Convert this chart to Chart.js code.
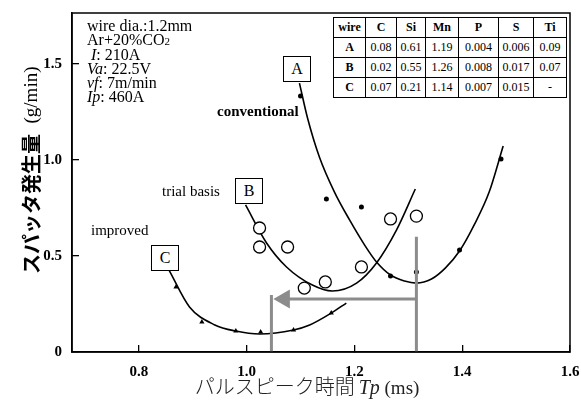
<!DOCTYPE html>
<html>
<head>
<meta charset="utf-8">
<script src="https://cdn.jsdelivr.net/npm/chart.js@4"></script>
<style>
  body { margin: 0; background: #fff; }
  #wrap { position: relative; width: 581px; height: 401px; }
  .ov { position: absolute; pointer-events: none; color: #000; }
  .serif { font-family: "Liberation Serif", serif; }
  .box { border: 1.3px solid #000; background: #fff; width: 26px; height: 24px; line-height: 24px;
         text-align: center; font-size: 16px; font-family: "Liberation Serif", serif; }
  .anchor { position: absolute; width: 0; height: 0; }
  .anchor > div { position: absolute; white-space: nowrap; }
  .rot > div { transform: translate(-50%, -50%) rotate(-90deg); }
  .mid > div { transform: translate(-50%, -50%); }
  #params { left: 87px; top: 19px; font-size: 16px; line-height: 14px; }
  #comp { left: 333px; top: 17px; border-collapse: collapse; font-family: "Liberation Serif", serif; font-size: 12px; background: #fff; }
  #comp td { border: 1.2px solid #000; height: 19px; padding: 0 2px; text-align: center; }
  #comp tr:first-child td, #comp td:first-child { font-weight: bold; }
</style>
</head>
<body>
<div id="wrap">
  <canvas id="chart"></canvas>

  <div id="params" class="ov serif">
    wire dia.:1.2mm<br>
    Ar+20%CO<span style="font-size:11px">2</span><br>
    &nbsp;<i>I</i>: 210A<br>
    <i>Va</i>: 22.5V<br>
    <i>vf</i>: 7m/min<br>
    <i>Ip</i>: 460A
  </div>

  <table id="comp" class="ov">
    <tr><td style="width:27px">wire</td><td style="width:26px">C</td><td style="width:24px">Si</td><td style="width:28px">Mn</td><td style="width:35px">P</td><td style="width:30px">S</td><td style="width:28px">Ti</td></tr>
    <tr><td>A</td><td>0.08</td><td>0.61</td><td>1.19</td><td>0.004</td><td>0.006</td><td>0.09</td></tr>
    <tr><td>B</td><td>0.02</td><td>0.55</td><td>1.26</td><td>0.008</td><td>0.017</td><td>0.07</td></tr>
    <tr><td>C</td><td>0.07</td><td>0.21</td><td>1.14</td><td>0.007</td><td>0.015</td><td>-</td></tr>
  </table>

  <div class="ov box" style="left:283px; top:56px;">A</div>
  <div class="ov box" style="left:235px; top:178px;">B</div>
  <div class="ov box" style="left:151px; top:245px;">C</div>
  <div class="ov serif" style="left:217px; top:103px; font-size:15px; font-weight:bold;">conventional</div>
  <div class="ov serif" style="left:162px; top:183px; font-size:15px;">trial basis</div>
  <div class="ov serif" style="left:91px; top:222px; font-size:15px;">improved</div>

  <!-- y axis title -->
  <div class="ov anchor rot" style="left:30px; top:204px;">
    <div style="font-family:'Noto Sans CJK JP'; font-weight:bold; font-size:20px;">スパッタ発生量</div>
  </div>
  <div class="ov anchor rot" style="left:31px; top:95px;">
    <div class="serif" style="font-size:19px;">(g/min)</div>
  </div>

  <!-- x axis title -->
  <div class="ov anchor mid" style="left:307px; top:385px;">
    <div style="color:#222;">
      <span style="font-family:'Noto Sans CJK JP'; font-weight:300; font-size:20px;">パルスピーク時間</span>
      <i class="serif" style="font-size:20px;">Tp</i><span class="serif" style="font-size:19px;"> (ms)</span>
    </div>
  </div>
</div>

<script>
// measured points (pulse peak time Tp in ms, spatter in g/min)
const tpA = [1.100, 1.148, 1.213, 1.267, 1.315, 1.395, 1.472];
const spatterA = [1.333, 0.797, 0.755, 0.396, 0.417, 0.531, 1.005];
const tpB = [1.024, 1.024, 1.076, 1.107, 1.146, 1.213, 1.267, 1.315];
const spatterB = [0.646, 0.547, 0.547, 0.333, 0.365, 0.443, 0.693, 0.708];
const tpC = [0.869, 0.917, 0.980, 1.026, 1.087, 1.157];
const spatterC = [0.339, 0.156, 0.109, 0.104, 0.115, 0.203];

// fitted curves as drawn in the figure
const fitAx = [1.098, 1.113, 1.135, 1.163, 1.191, 1.219, 1.241, 1.267, 1.293, 1.315, 1.343, 1.369, 1.395, 1.422, 1.450, 1.476];
const fitAy = [1.401, 1.219, 1.016, 0.833, 0.688, 0.557, 0.469, 0.401, 0.370, 0.359, 0.380, 0.438, 0.526, 0.661, 0.833, 1.073];
const fitBx = [0.998, 1.037, 1.074, 1.122, 1.159, 1.204, 1.241, 1.278, 1.313];
const fitBy = [0.766, 0.568, 0.443, 0.349, 0.318, 0.359, 0.464, 0.635, 0.849];
const fitCx = [0.856, 0.894, 0.941, 0.980, 1.024, 1.087, 1.117, 1.157, 1.185];
const fitCy = [0.427, 0.235, 0.141, 0.109, 0.094, 0.115, 0.141, 0.203, 0.255];

// grey arrow: from Tp of A minimum to Tp of C minimum
const markAx = [1.315, 1.315];
const markAy = [0.6, 0];
const arrowX = [1.315, 1.07];
const arrowY = [0.276, 0.276];
const markCx = [1.046, 1.046];
const markCy = [0.297, 0];

const xTicks = [0.8, 1.0, 1.2, 1.4, 1.6];
const yTicks = [0, 0.5, 1.0, 1.5];

const pts = (xs, ys) => xs.map((x, i) => ({ x: x, y: ys[i] }));
const grey = '#8c8c8c';

const frame = {
    id: 'frame',
    afterDraw(chart) {
        const a = chart.chartArea, ctx = chart.ctx;
        ctx.save();
        ctx.strokeStyle = '#000';
        ctx.lineWidth = 1.5;
        ctx.strokeRect(a.left, a.top, a.right - a.left, a.bottom - a.top);
        ctx.restore();
    }
};

const tickFont = { family: 'Liberation Serif', size: 15, weight: 'bold' };

new Chart(document.getElementById('chart'), {
    type: 'scatter',
    data: {
        datasets: [
            { data: pts(markAx, markAy), showLine: true, borderColor: grey, borderWidth: 3, pointRadius: 0 },
            { data: pts(arrowX, arrowY), showLine: true, borderColor: grey, borderWidth: 3, pointRadius: 0 },
            { data: pts(arrowX.slice(1), arrowY.slice(1)), pointStyle: 'triangle', pointRotation: -90, pointRadius: 11, backgroundColor: grey, borderColor: grey, borderWidth: 0 },
            { data: pts(markCx, markCy), showLine: true, borderColor: grey, borderWidth: 3, pointRadius: 0 },
            { data: pts(tpA, spatterA), pointRadius: 2.5, backgroundColor: '#000', borderColor: '#000', borderWidth: 0 },
            { data: pts(tpB, spatterB), pointRadius: 6, backgroundColor: '#fff', borderColor: '#000', borderWidth: 1.3 },
            { data: pts(tpC, spatterC), pointStyle: 'triangle', pointRadius: 3, backgroundColor: '#000', borderColor: '#000', borderWidth: 0 },
            { data: pts(fitAx, fitAy), showLine: true, borderColor: '#000', borderWidth: 1.6, pointRadius: 0, cubicInterpolationMode: 'monotone' },
            { data: pts(fitBx, fitBy), showLine: true, borderColor: '#000', borderWidth: 1.6, pointRadius: 0, cubicInterpolationMode: 'monotone' },
            { data: pts(fitCx, fitCy), showLine: true, borderColor: '#000', borderWidth: 1.6, pointRadius: 0, cubicInterpolationMode: 'monotone' }
        ]
    },
    options: {
        responsive: true,
        maintainAspectRatio: false,
        animation: false,
        layout: { padding: { top: 13, right: 11, left: 0, bottom: 0 } },
        plugins: { legend: { display: false }, tooltip: { enabled: false } },
        scales: {
            x: {
                type: 'linear', min: 0.676, max: 1.6,
                afterBuildTicks: s => { s.ticks = xTicks.map(v => ({ value: v })); },
                afterFit: s => { s.height = 49; s.paddingLeft = 0; s.paddingRight = 0; },
                ticks: { font: tickFont, color: '#000', padding: 18, callback: v => v.toFixed(1) },
                grid: { drawOnChartArea: false, tickLength: -7, color: '#000', lineWidth: 1.3 },
                border: { color: '#000', width: 1.5 }
            },
            y: {
                type: 'linear', min: 0, max: 1.766,
                afterBuildTicks: s => { s.ticks = yTicks.map(v => ({ value: v })); },
                afterFit: s => { s.width = 72; s.paddingTop = 0; s.paddingBottom = 0; },
                ticks: { font: tickFont, color: '#000', padding: 17, callback: v => v === 0 ? '0' : v.toFixed(1) },
                grid: { drawOnChartArea: false, tickLength: -7, color: '#000', lineWidth: 1.3 },
                border: { color: '#000', width: 1.5 }
            }
        }
    },
    plugins: [frame]
});
</script>
</body>
</html>
